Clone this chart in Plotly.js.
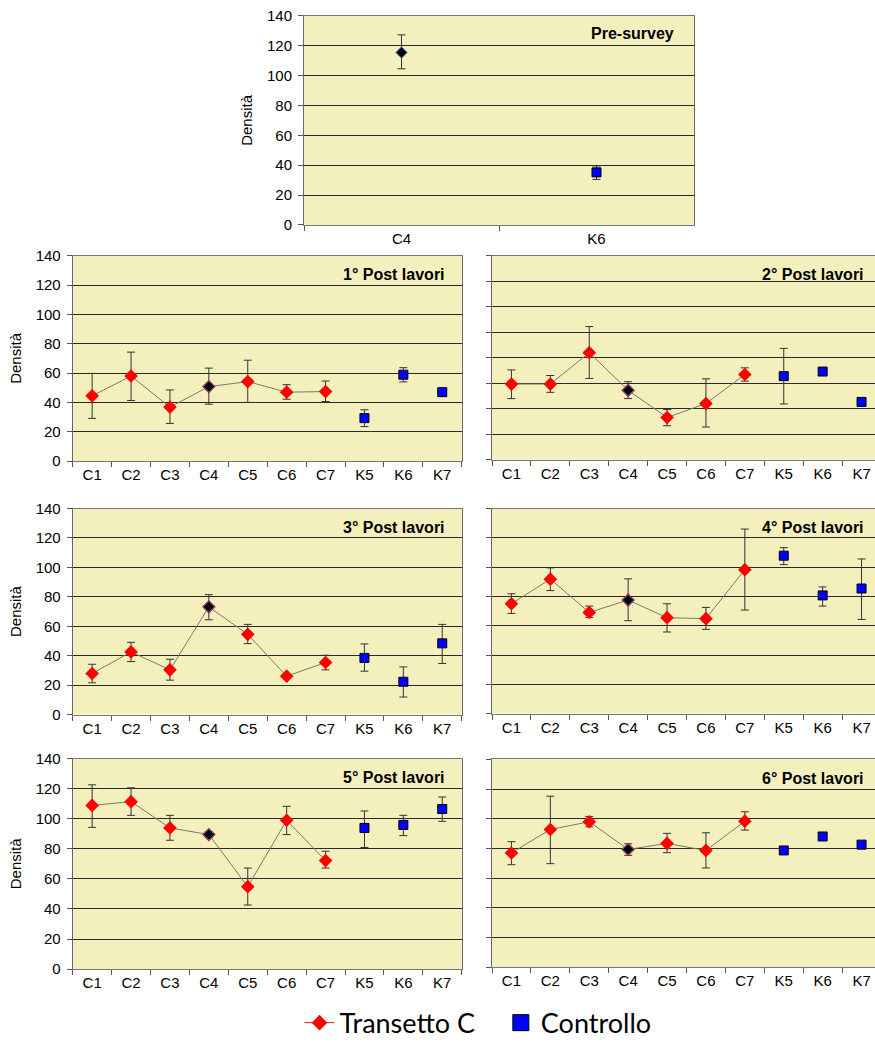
<!DOCTYPE html>
<html>
<head>
<meta charset="utf-8">
<script src="https://cdn.plot.ly/plotly-3.0.1.min.js"></script>
<style>
html,body{margin:0;padding:0;overflow:hidden;background:#fff;}
#chart{width:882px;height:1048px;}
</style>
</head>
<body>
<div id="chart"></div>
<script>
// ---- categories ----
const categories = ['C1','C2','C3','C4','C5','C6','C7','K5','K6','K7'];
const transCats = ['C1','C2','C3','C4','C5','C6','C7'];
const ctrlCats = ['K5','K6','K7'];
const preCats = ['C4','K6'];
const titles = ['Pre-survey','1° Post lavori','2° Post lavori','3° Post lavori','4° Post lavori','5° Post lavori','6° Post lavori'];

// ---- Pre-survey ----
const pre_c = [115.5], pre_c_hi = [127.3], pre_c_lo = [104.6];
const pre_k = [35.2],  pre_k_hi = [39.5],  pre_k_lo = [30.5];

// ---- 1° Post lavori ----
const p1_c    = [44.5, 58.0, 36.8, 50.8, 54.2, 47.0, 47.4];
const p1_c_hi = [59.8, 74.3, 48.5, 63.4, 68.8, 52.1, 54.6];
const p1_c_lo = [29.1, 41.3, 25.7, 38.8, 40.0, 42.2, 40.6];
const p1_k    = [29.3, 58.9, 47.0];
const p1_k_hi = [35.0, 63.7, 47.0];
const p1_k_lo = [23.5, 54.0, 47.0];

// ---- 2° Post lavori (axis 0-160) ----
const p2_c    = [59.4, 59.4, 84.0, 54.5, 33.2, 44.1, 66.9];
const p2_c_hi = [70.5, 66.1, 104.5, 61.2, 39.4, 63.5, 72.1];
const p2_c_lo = [48.0, 52.9, 63.8, 48.0, 26.7, 25.7, 61.7];
const p2_k    = [65.6, 69.2, 45.4];
const p2_k_hi = [87.4, 69.2, 45.4];
const p2_k_lo = [43.8, 69.2, 45.4];

// ---- 3° Post lavori ----
const p3_c    = [27.9, 42.6, 30.4, 73.2, 54.5, 26.1, 35.4];
const p3_c_hi = [34.2, 49.1, 37.6, 81.5, 61.3, 27.0, 40.3];
const p3_c_lo = [21.6, 36.0, 23.4, 64.4, 48.2, 25.2, 30.4];
const p3_k    = [38.5, 22.3, 48.4];
const p3_k_hi = [48.0, 32.4, 61.3];
const p3_k_lo = [29.5, 11.9, 34.7];

// ---- 4° Post lavori ----
const p4_c    = [75.0, 91.8, 69.1, 77.5, 65.5, 64.8, 98.3];
const p4_c_hi = [81.8, 99.5, 73.4, 92.0, 75.0, 72.5, 126.0];
const p4_c_lo = [68.4, 84.0, 65.7, 63.4, 55.7, 57.5, 70.7];
const p4_k    = [107.8, 80.7, 85.4];
const p4_k_hi = [113.3, 86.5, 105.6];
const p4_k_lo = [101.7, 73.4, 64.3];

// ---- 5° Post lavori ----
const p5_c    = [108.9, 111.4, 93.9, 89.5, 54.8, 99.0, 72.2];
const p5_c_hi = [122.6, 120.6, 102.3, 91.5, 67.2, 108.3, 78.4];
const p5_c_lo = [94.3, 102.3, 85.7, 87.5, 42.6, 89.5, 67.2];
const p5_k    = [93.9, 95.9, 106.5];
const p5_k_hi = [105.2, 102.3, 114.5];
const p5_k_lo = [80.9, 88.8, 98.3];

// ---- 6° Post lavori ----
const p6_c    = [77.0, 92.8, 98.0, 79.4, 83.4, 78.7, 98.4];
const p6_c_hi = [84.6, 115.2, 101.6, 83.2, 90.2, 90.6, 104.7];
const p6_c_lo = [69.1, 69.8, 94.6, 75.4, 77.2, 66.9, 92.4];
const p6_k    = [78.7, 88.1, 82.6];
const p6_k_hi = [78.7, 88.1, 82.6];
const p6_k_lo = [78.7, 88.1, 82.6];

const yMax = [140, 140, 160, 140, 140, 140, 140];

// ---- styling / layout (pixels) ----
const W = 882, H = 1048;
const boxes = [
  {l:304, r:694, t:16, b:226, labels:true},
  {l:72.7, r:461.7, t:257, b:463.3, labels:true},
  {l:492, r:881, t:257, b:462, labels:false},
  {l:72.7, r:461.7, t:511, b:718, labels:true},
  {l:492, r:881, t:511, b:717, labels:false},
  {l:72.7, r:461.7, t:762.3, b:973.7, labels:true},
  {l:492, r:881, t:763, b:972, labels:false}
];
const plotBg = '#F4F0BE';
const FONT = '"Liberation Sans", Arial, sans-serif';
const errStyle = (v, hi, lo) => ({
  type:'data', symmetric:false,
  array: v.map((d,i)=>hi[i]-d),
  arrayminus: v.map((d,i)=>d-lo[i]),
  color:'#333', thickness:1, width:4
});

const panels = [
  null,
  [p1_c,p1_c_hi,p1_c_lo,p1_k,p1_k_hi,p1_k_lo],
  [p2_c,p2_c_hi,p2_c_lo,p2_k,p2_k_hi,p2_k_lo],
  [p3_c,p3_c_hi,p3_c_lo,p3_k,p3_k_hi,p3_k_lo],
  [p4_c,p4_c_hi,p4_c_lo,p4_k,p4_k_hi,p4_k_lo],
  [p5_c,p5_c_hi,p5_c_lo,p5_k,p5_k_hi,p5_k_lo],
  [p6_c,p6_c_hi,p6_c_lo,p6_k,p6_k_hi,p6_k_lo]
];

const traces = [];
const layout = {
  width: W, height: H,
  margin:{l:0,r:0,t:0,b:0,pad:0},
  paper_bgcolor:'#fff',
  showlegend:true,
  font:{family:FONT, size:15, color:'#000'},
  annotations:[],
  shapes:[],
  legend:{orientation:'h', x:0.542, xanchor:'center', y:1-1028/H, yanchor:'middle',
          font:{family:'Lato, "Open Sans", sans-serif', size:27, color:'#000'},
          bgcolor:'rgba(0,0,0,0)', itemclick:false, tracegroupgap:0}
};

for (let p=0; p<7; p++) {
  const n = p===0 ? '' : String(p+1);
  const xa = 'x'+n, ya = 'y'+n;
  const bx = boxes[p];
  const cats = p===0 ? preCats : categories;
  layout['xaxis'+n] = {
    domain:[bx.l/W, bx.r/W], anchor:ya,
    type:'category', categoryorder:'array', categoryarray:cats,
    range:[-0.5, cats.length-0.5], tickson:'boundaries',
    ticks:'outside', ticklen:5, tickcolor:'#555', tickwidth:1,
    showgrid:false, zeroline:false,
    showline:true, linecolor:'#777', linewidth:1, mirror:true,
    tickfont:{family:FONT, size:15, color:'#000'}, fixedrange:true
  };
  layout['yaxis'+n] = {
    domain:[1-bx.b/H, 1-bx.t/H], anchor:xa,
    range:[0, yMax[p]], tickmode:'linear', tick0:0, dtick:20,
    ticks:'outside', ticklen:5, tickcolor:'#555', tickwidth:1,
    showticklabels:bx.labels, ticklabelstandoff:3,
    showgrid:true, gridcolor:'#2a2a2a', gridwidth:1, zeroline:false,
    showline:true, linecolor:'#666', linewidth:1, mirror:true,
    tickfont:{family:FONT, size:15, color:'#000'}, fixedrange:true,
    title: bx.labels ? {text:'Densità', font:{family:FONT, size:15, color:'#000'}, standoff:10} : {text:''}
  };
  layout.annotations.push({
    xref:xa+' domain', yref:ya+' domain', x:1, y:1, xanchor:'right', yanchor:'middle',
    xshift: p===0 ? -18 : -15, yshift: p===0 ? -18 : -19,
    text:'<b>'+titles[p]+'</b>', showarrow:false,
    font:{family:FONT, size:16, color:'#000'}
  });

  if (p===0) {
    traces.push({x:[preCats[0]], y:pre_c, xaxis:xa, yaxis:ya, type:'scatter', mode:'markers',
      showlegend:false, error_y:errStyle(pre_c,pre_c_hi,pre_c_lo),
      marker:{symbol:'diamond', size:8.5, color:'#000', line:{color:'#2a4cc0', width:1}}});
    traces.push({x:[preCats[1]], y:pre_k, xaxis:xa, yaxis:ya, type:'scatter', mode:'markers',
      showlegend:false, error_y:errStyle(pre_k,pre_k_hi,pre_k_lo),
      marker:{symbol:'square', size:9, color:'#0000FF', line:{color:'#000', width:1}}});
  } else {
    const [c,chi,clo,k,khi,klo] = panels[p];
    traces.push({x:transCats, y:c, xaxis:xa, yaxis:ya, type:'scatter', mode:'lines+markers',
      showlegend:false, error_y:errStyle(c,chi,clo),
      line:{color:'#7a7a6a', width:1},
      marker:{symbol:'diamond', size:10.5, color:'#FF0000', line:{color:'#FF0000', width:0}}});
    traces.push({x:[transCats[3]], y:[c[3]], xaxis:xa, yaxis:ya, type:'scatter', mode:'markers',
      showlegend:false, hoverinfo:'skip',
      marker:{symbol:'diamond', size:8.5, color:'#000', line:{color:'#2a6cd0', width:1}}});
    traces.push({x:ctrlCats, y:k, xaxis:xa, yaxis:ya, type:'scatter', mode:'markers',
      showlegend:false, error_y:errStyle(k,khi,klo),
      marker:{symbol:'square', size:9, color:'#0000FF', line:{color:'#000', width:1}}});
  }
  layout.shapes.push({type:'rect', xref:xa+' domain', yref:ya+' domain', x0:0, x1:1, y0:0, y1:1,
    fillcolor:plotBg, line:{width:0}, layer:'below'});
}

// legend entries
traces.push({x:[null], y:[null], type:'scatter', mode:'lines+markers', name:'Transetto C\u00a0\u00a0\u00a0',
  line:{color:'#cc2020', width:1}, marker:{symbol:'diamond', size:12, color:'#FF0000'}});
traces.push({x:[null], y:[null], type:'scatter', mode:'markers', name:'Controllo',
  marker:{symbol:'square', size:16, color:'#0000FF', line:{color:'#000', width:1}}});

Plotly.newPlot('chart', traces, layout, {staticPlot:true, displayModeBar:false});
</script>
</body>
</html>
